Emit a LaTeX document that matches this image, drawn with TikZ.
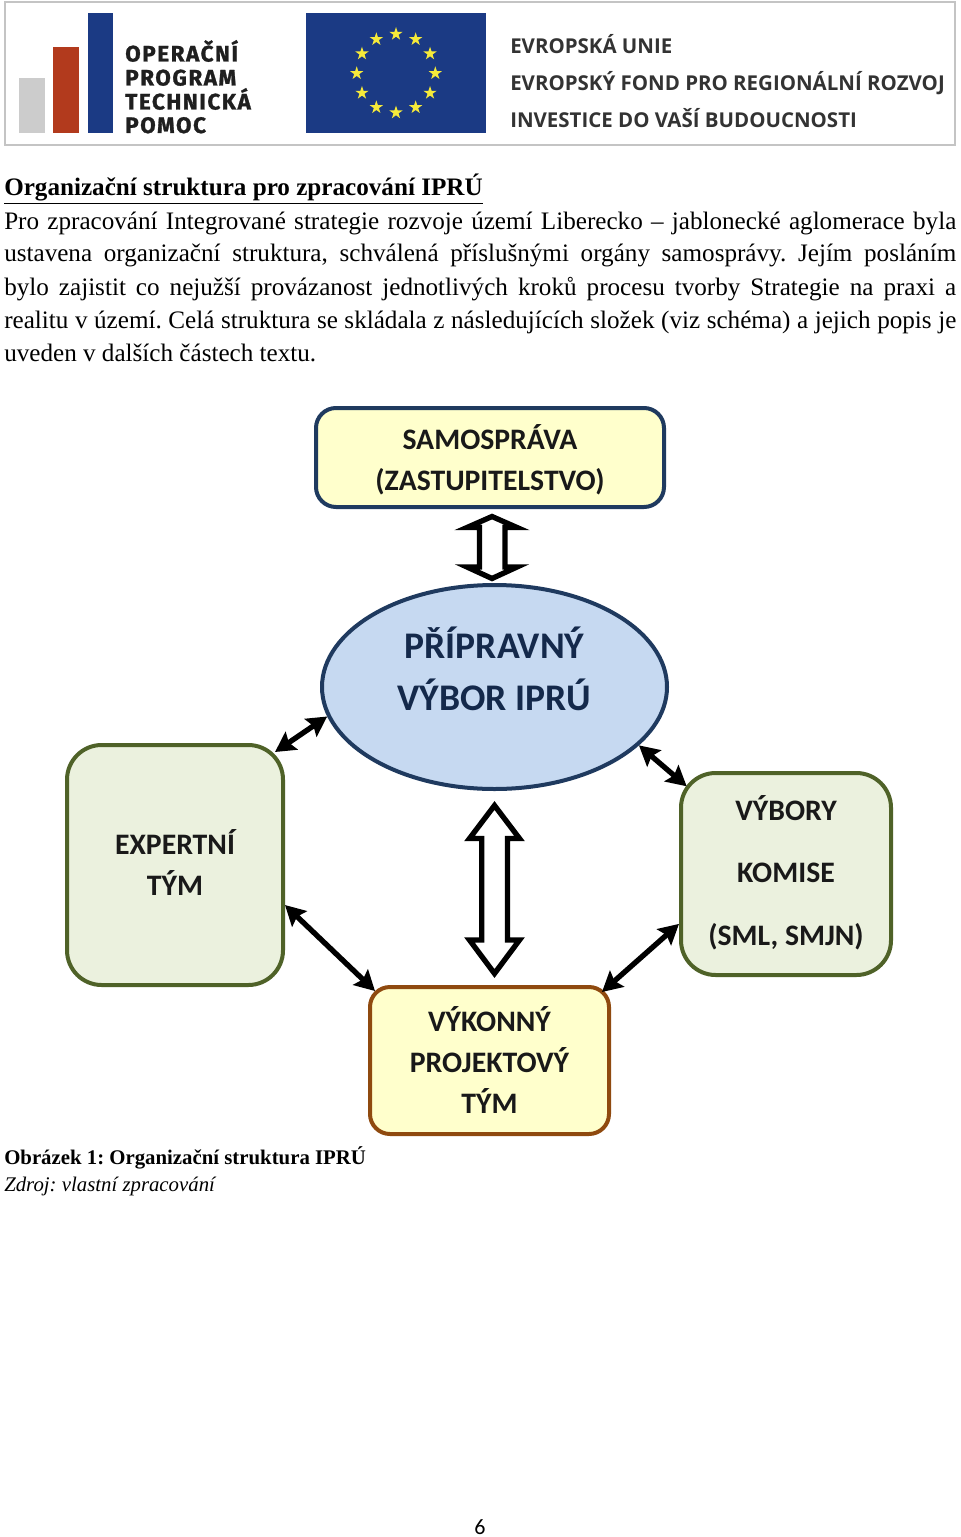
\documentclass[tikz,border=0pt]{standalone}
\usepackage{fontspec}
\setmainfont{Liberation Serif}
\newfontfamily\crl{Carlito}
\newfontfamily\din[LetterSpace=7,BoldFeatures={FakeBold=1.2}]{Fira Sans}
\newfontfamily\eufont{Open Sans}
\usetikzlibrary{arrows.meta,shapes.geometric,calc}
\definecolor{frameg}{HTML}{C4C4C4}
\definecolor{barg}{HTML}{CCCCCC}
\definecolor{barr}{HTML}{B23A1D}
\definecolor{eub}{HTML}{1B3A84}
\definecolor{euy}{HTML}{F6EA3A}
\definecolor{ye}{HTML}{FFFFCC}
\definecolor{gr}{HTML}{EBF1DE}
\definecolor{grb}{HTML}{4F6228}
\definecolor{blb}{HTML}{1F3A5F}
\definecolor{blf}{HTML}{C6D9F1}
\definecolor{brb}{HTML}{8F4A0F}
\definecolor{navy}{HTML}{14294B}
\tikzset{
  x=0.75pt,y=-0.75pt,
  bodyline/.style={anchor=base west,inner sep=0,font=\fontsize{18.85}{22}\selectfont},
  logotxt/.style={anchor=base west,inner sep=0,text=black!88,font=\din\bfseries\fontsize{16.8}{18}\selectfont},
  eutxt/.style={anchor=base west,inner sep=0,text=black!80,font=\eufont\bfseries\fontsize{15.35}{17}\selectfont},
  box/.style={rounded corners=#1,draw,line width=3pt,align=center,inner sep=0,font=\crl\bfseries\fontsize{22.3}{30.75}\selectfont,text=black!90},
  twohead/.style={line width=4pt,{Stealth[length=15pt,width=16pt,inset=2.5pt]}-{Stealth[length=15pt,width=16pt,inset=2.5pt]}},
  blockarrow/.style={draw=black,fill=white,line width=4pt,miter limit=20,line join=miter},
  eustar/.style={star,star points=5,star point ratio=2.618,fill=euy,inner sep=0,minimum size=10.5pt}
}
\begin{document}
\frenchspacing
\begin{tikzpicture}
\useasboundingbox (0,0) rectangle (960,1537);
% header
\draw[frameg,line width=1.1pt] (5,2) rectangle (955,145);
\fill[barg] (19,78) rectangle (45,133);
\fill[barr] (53,47) rectangle (79,133);
\fill[eub] (88,13) rectangle (113,133);
\node[logotxt] (l1) at (125,61.5) {OPERAČNÍ};
\node[logotxt] (l2) at (125,85.5) {PROGRAM};
\node[logotxt] (l3) at (125,109.5) {TECHNICKÁ};
\node[logotxt] (l4) at (125,133) {POMOC};
\fill[eub] (306,13) rectangle (486,133);
\foreach \i in {0,...,11}
  \node[eustar,name=st\i] at ($(396,73.3)+({30*\i}:39.3)$) {};
\node[eutxt] (e1) at (510,54) {EVROPSKÁ UNIE};
\node[eutxt] (e2) at (510,91) {EVROPSKÝ FOND PRO REGIONÁLNÍ ROZVOJ};
\node[eutxt] (e3) at (510,128) {INVESTICE DO VAŠÍ BUDOUCNOSTI};
% text
\node[bodyline] (t0) at (4,195.5) {\bfseries\underline{Organizační struktura pro zpracování IPRÚ}};
\node[bodyline] (t1) at (4,229) {\makebox[714pt][s]{Pro zpracování Integrované strategie rozvoje území Liberecko – jablonecké aglomerace byla}};
\node[bodyline] (t2) at (4,262) {\makebox[714pt][s]{ustavena organizační struktura, schválená příslušnými orgány samosprávy. Jejím posláním}};
\node[bodyline] (t3) at (4,295) {\makebox[714pt][s]{bylo zajistit co nejužší provázanost jednotlivých kroků procesu tvorby Strategie na praxi a}};
\node[bodyline] (t4) at (4,328) {\makebox[714pt][s]{realitu v území. Celá struktura se skládala z následujících složek (viz schéma) a jejich popis je}};
\node[bodyline] (t5) at (4,361) {uveden v dalších částech textu.};
% diagram nodes
\node[box=15pt,draw=blb,fill=ye,minimum width=261pt,minimum height=74.25pt] (sam) at (490,457.5) {\rule{0pt}{22pt}SAMOSPRÁVA\\(ZASTUPITELSTVO)};
\node[ellipse,draw=blb,line width=3pt,fill=blf,minimum width=258.75pt,minimum height=153pt,inner sep=0,align=center,text=navy,font=\crl\bfseries\fontsize{28.2}{39}\selectfont] (pr) at (494.5,687) {PŘÍPRAVNÝ\\VÝBOR IPRÚ\rule[-27.5pt]{0pt}{1pt}};
\node[box=26pt,draw=grb,fill=gr,minimum width=162pt,minimum height=180pt] (exp) at (175,865) {EXPERTNÍ\\TÝM\rule[-3pt]{0pt}{1pt}};
\node[box=26pt,draw=grb,fill=gr,minimum width=157.5pt,minimum height=151.5pt,font=\crl\bfseries\fontsize{22.3}{47}\selectfont] (vyb) at (786,874) {VÝBORY\\KOMISE\\(SML, SMJN)\rule[-5.5pt]{0pt}{1pt}};
\node[box=15pt,draw=brb,fill=ye,minimum width=179.25pt,minimum height=110.25pt] (vyk) at (489.5,1060.5) {VÝKONNÝ\\PROJEKTOVÝ\\TÝM};
% connectors
\draw[twohead] (pr.190.9) -- ($(exp.north east)+(-10,9)$);
\draw[twohead] (pr.338.3) -- ($(vyb.north west)+(7.7,15.3)$);
\draw[twohead] (exp.340.8) -- ($(vyk.north west)+(7,6)$);
\draw[twohead] (vyb.205.6) -- ($(vyk.north east)+(-9,7)$);
% block arrows
\draw[blockarrow] (492,516.5) -- (517,527.5) -- (505,527.5) -- (505,567) -- (517,567) -- (492,578.5) -- (467,567) -- (479.5,567) -- (479.5,527.5) -- (467,527.5) -- cycle;
\draw[blockarrow] (494.5,805.5) -- (519.5,838.5) -- (507.5,838.5) -- (507.5,940) -- (519.5,940) -- (494.5,973.5) -- (469.5,940) -- (481.7,940) -- (481.7,838.5) -- (469.5,838.5) -- cycle;
% caption
\node[anchor=base west,inner sep=0,font=\bfseries\fontsize{15.6}{18}\selectfont] (c1) at (4,1164) {Obrázek 1: Organizační struktura IPRÚ};
\node[anchor=base west,inner sep=0,font=\itshape\fontsize{15.6}{18}\selectfont] (c2) at (4,1191) {Zdroj: vlastní zpracování};
\node[anchor=base,inner sep=0,font=\crl\fontsize{16.5}{18}\selectfont] (pg) at (480,1534.5) {6};
\end{tikzpicture}
\end{document}
